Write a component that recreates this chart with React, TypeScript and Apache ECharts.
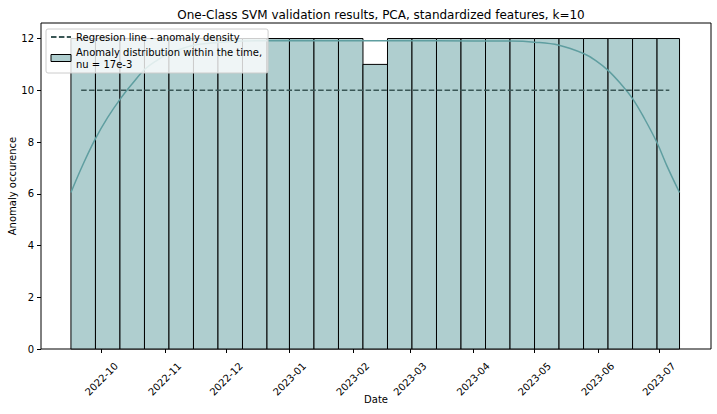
import { useRef, useEffect } from 'react'
import * as echarts from 'echarts'

// ── data ────────────────────────────────────────────────────────
const binEdges = [
  '2022-09-16', '2022-09-28', '2022-10-10', '2022-10-22', '2022-11-03',
  '2022-11-15', '2022-11-27', '2022-12-09', '2022-12-21', '2023-01-01',
  '2023-01-13', '2023-01-25', '2023-02-06', '2023-02-18', '2023-03-02',
  '2023-03-14', '2023-03-26', '2023-04-07', '2023-04-19', '2023-05-01',
  '2023-05-13', '2023-05-25', '2023-06-06', '2023-06-18', '2023-06-30',
  '2023-07-11',
]
const binCounts = [
  12, 12, 12, 12, 12, 12, 12, 12, 12, 12, 12, 12, 11,
  12, 12, 12, 12, 12, 12, 12, 12, 12, 12, 12, 12,
]

const kdeDates = [
  '2022-09-16', '2022-09-22', '2022-09-28', '2022-10-04', '2022-10-10',
  '2022-10-16', '2022-10-22', '2022-10-28', '2022-11-03', '2022-11-15',
  '2022-11-27', '2022-12-09', '2023-01-01', '2023-02-06', '2023-03-14',
  '2023-04-19', '2023-05-01', '2023-05-13', '2023-05-25', '2023-05-31',
  '2023-06-06', '2023-06-12', '2023-06-18', '2023-06-24', '2023-06-30',
  '2023-07-05', '2023-07-11',
]
const kdeValues = [
  6.05, 7.15, 8.13, 8.95, 9.65, 10.25, 10.8, 11.15, 11.42, 11.74,
  11.85, 11.9, 11.92, 11.91, 11.91, 11.9, 11.86, 11.74, 11.42, 11.15,
  10.77, 10.27, 9.68, 8.88, 7.97, 7.05, 6.05,
]

const regDates = ['2022-09-21', '2023-07-06']
const regValues = [10, 10]

const xTickLabels = [
  '2022-10', '2022-11', '2022-12', '2023-01', '2023-02',
  '2023-03', '2023-04', '2023-05', '2023-06', '2023-07',
]
const yTicks = [0, 2, 4, 6, 8, 10, 12]

const HIST_NAME = 'Anomaly distribution within the time,\nnu = 17e-3'
const REG_NAME = 'Regresion line - anomaly density'

const toMs = (s: string) => new Date(s + 'T00:00:00').getTime()
const pad = (n: number) => (n < 10 ? '0' + n : String(n))

function buildOption(): echarts.EChartsOption {
  const histData = binCounts.map((c, i) => [toMs(binEdges[i]), toMs(binEdges[i + 1]), c])
  const kdeData = kdeDates.map((d, i) => [toMs(d), kdeValues[i]])
  const regData = regDates.map((d, i) => [toMs(d), regValues[i]])
  const monthTicks = xTickLabels.map((m) => toMs(m + '-01'))

  return {
    animation: false,
    backgroundColor: '#fff',
    textStyle: { fontFamily: 'DejaVu Sans', color: '#000' },

    title: {
      text: 'One-Class SVM validation results, PCA, standardized features, k=10',
      left: 376, top: 4, textAlign: 'center',
      textStyle: { fontSize: 12, fontWeight: 'normal', color: '#000', fontFamily: 'DejaVu Sans' },
    },

    grid: {
      left: 41, right: 6, top: 23, bottom: 65,
      outerBoundsMode: 'none', containLabel: false,
      show: true, borderColor: '#000', borderWidth: 1, backgroundColor: 'transparent',
    } as any,

    legend: {
      orient: 'vertical',
      left: 46, top: 29,
      padding: [2, 6, 3, 4],
      itemGap: 3,
      itemWidth: 20, itemHeight: 7,
      backgroundColor: 'rgba(255,255,255,0.8)',
      borderColor: '#cccccc', borderWidth: 1, borderRadius: 2,
      textStyle: { fontSize: 10, lineHeight: 12, color: '#000', fontFamily: 'DejaVu Sans' },
      data: [
        { name: REG_NAME, itemStyle: { opacity: 0 } },
        { name: HIST_NAME, icon: 'rect', itemStyle: { color: '#afcecf', borderColor: '#000', borderWidth: 1 } },
      ],
    },

    xAxis: {
      type: 'value',
      min: toMs('2022-09-01') + 8 * 3600e3,
      max: toMs('2023-07-26') + 10 * 3600e3,
      name: 'Date', nameLocation: 'middle', nameGap: 45, nameMoveOverlap: false,
      nameTextStyle: { fontSize: 10, color: '#000' },
      axisLine: { show: false },
      axisTick: { show: true, length: 4, lineStyle: { color: '#000' }, customValues: monthTicks } as any,
      axisLabel: {
        customValues: monthTicks,
        rotate: 45, align: 'center', verticalAlign: 'middle', margin: 30,
        fontSize: 10, color: '#000',
        formatter: (v: number) => {
          const d = new Date(v)
          return `${d.getFullYear()}-${pad(d.getMonth() + 1)}`
        },
      } as any,
      splitLine: { show: false },
    } as any,

    yAxis: {
      type: 'value',
      min: 0, max: 12.6,
      name: 'Anomaly occurence', nameLocation: 'middle', nameGap: 24, nameMoveOverlap: false,
      nameTextStyle: { fontSize: 10, color: '#000' },
      axisLine: { show: false },
      axisTick: { show: true, length: 4, lineStyle: { color: '#000' }, customValues: yTicks } as any,
      axisLabel: { customValues: yTicks, fontSize: 10, color: '#000', margin: 7 } as any,
      splitLine: { show: false },
    } as any,

    series: [
      {
        name: HIST_NAME,
        type: 'custom',
        data: histData,
        encode: { x: [0, 1], y: 2 },
        itemStyle: { color: '#afcecf', borderColor: '#000' },
        renderItem: (_params: any, api: any) => {
          const tl = api.coord([api.value(0), api.value(2)])
          const br = api.coord([api.value(1), 0])
          return {
            type: 'rect',
            shape: { x: tl[0], y: tl[1], width: br[0] - tl[0], height: br[1] - tl[1] },
            style: { fill: '#afcecf', stroke: '#000', lineWidth: 1 },
          }
        },
        z: 1,
      },
      {
        name: 'kde',
        type: 'line',
        data: kdeData,
        smooth: 0.4,
        symbol: 'none',
        lineStyle: { color: '#5f9ea0', width: 1.5 },
        z: 3,
      },
      {
        name: REG_NAME,
        type: 'line',
        data: regData,
        symbol: 'none',
        itemStyle: { color: '#3a5756' },
        lineStyle: { color: '#3a5756', width: 1.5, type: [5.5, 2.4] },
        z: 4,
      },
    ],
  } as echarts.EChartsOption
}

export default function App() {
  const ref = useRef<HTMLDivElement>(null)

  useEffect(() => {
    if (!ref.current) return
    const chart = echarts.init(ref.current, undefined, { renderer: 'svg' })
    chart.setOption(buildOption())
    return () => chart.dispose()
  }, [])

  return (
    <div
      ref={ref}
      style={{ position: 'fixed', left: 0, top: 0, width: 717, height: 414, background: '#fff' }}
    />
  )
}
